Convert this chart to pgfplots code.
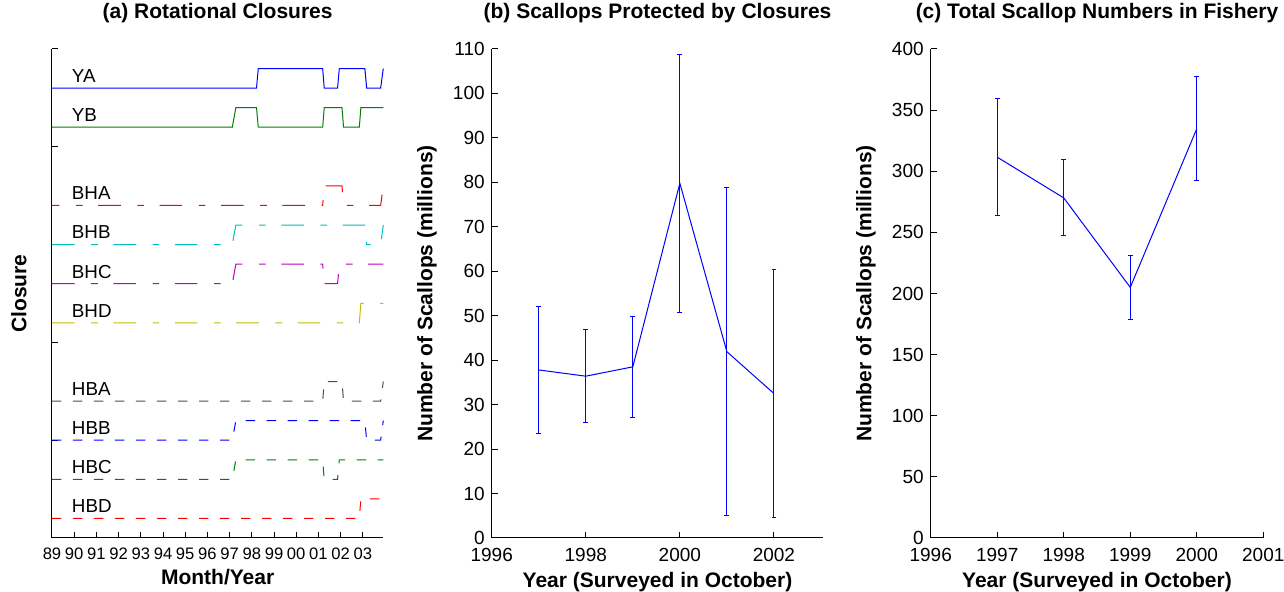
\documentclass[border=0pt]{standalone}
\usepackage{fontspec}
\setmainfont{Liberation Sans}
\usepackage{pgfplots}
\usepackage{pgfplotstable}
\pgfplotsset{compat=1.18}
\definecolor{mgreen}{rgb}{0,0.5,0}
\definecolor{mcyan}{rgb}{0,0.75,0.75}
\definecolor{mmag}{rgb}{0.75,0,0.75}
\definecolor{molive}{rgb}{0.75,0.75,0}
\pgfplotsset{
 myaxis/.style={
  scale only axis, axis lines=left, axis line style={-, black, line width=0.5pt},
  enlargelimits=false, tick align=inside, major tick length=3pt,
  tick style={black, line width=0.5pt},
  ticklabel style={font=\fontsize{9.5}{11}\selectfont},
  xticklabel style={yshift=-1.5pt},
  label style={font=\bfseries\fontsize{10.5}{12}\selectfont},
  title style={font=\bfseries\fontsize{10.5}{12}\selectfont, at={(axis description cs:0.5,1.037)}, anchor=base},
  /pgf/number format/assume math mode=true,
  /pgf/number format/1000 sep={},
  height=244.5pt, anchor=south west,
 },
 eb/.style={error bars/.cd, y dir=both, y explicit, error mark=none,
  error bar style={draw=blue, line width=0.5pt}},
 cap/.style={only marks, mark=-, mark size=1.2pt, color=blue, mark options={draw=blue, line width=0.5pt}},
}
\tikzset{
 dd/.style={line width=0.5pt, dash pattern=on 11.3pt off 8.3pt on 3.3pt off 7.8pt},
 dsh/.style={line width=0.5pt, dash pattern=on 4.7pt off 5.8pt},
 sl/.style={line width=0.5pt},
 lab/.style={anchor=west, inner sep=0pt, font=\fontsize{9.4}{11}\selectfont},
}
\pgfplotstableread{
x y e
1997 37.8 14.2
1998 36.4 10.5
1999 38.5 11.3
2000 79.8 29.0
2001 41.9 36.9
2002 32.5 27.9
}\protdata
\pgfplotstableread{
x y e
1997 311.5 47.7
1998 278.2 31.0
1999 205.0 26.3
2000 334.8 42.5
}\totdata
\begin{document}
\begin{tikzpicture}
\useasboundingbox (0,0) rectangle (642pt,296pt);
% (a)
\begin{axis}[myaxis, at={(26pt,27pt)}, width=165.65pt,
  xmin=1989, xmax=2003.92, ymin=0, ymax=25,
  xtick={1989,...,2003},
  xticklabels={89,90,91,92,93,94,95,96,97,98,99,00,01,02,03},
  xticklabel style={font=\fontsize{8.3}{10}\selectfont},
  ytick={0,5,10,15,20,25}, yticklabels={},
  title={(a) Rotational Closures},
  xlabel={Month/Year}, ylabel={Closure},
  xlabel style={at={(axis description cs:0.5,-0.096)}, anchor=base},
  ylabel style={at={(axis description cs:-0.1,0.5)}, anchor=center},
  clip=false]
\addplot[blue, sl] coordinates {(1989,23) (1998.21,23) (1998.29,24) (2001.19,24) (2001.26,23) (2001.86,23) (2001.94,24) (2003.09,24) (2003.17,23) (2003.80,23) (2003.92,24)};
\addplot[mgreen, sl] coordinates {(1989,21) (1997.12,21) (1997.28,22) (1998.21,22) (1998.29,21) (2001.19,21) (2001.26,22) (2002.06,22) (2002.13,21) (2002.84,21) (2002.91,22) (2003.92,22)};
\addplot[red, dd, dash phase=7.6pt] coordinates {(1989,17) (2001.19,17) (2001.26,18) (2002.06,18) (2002.13,17) (2003.80,17) (2003.92,18)};
\addplot[mcyan, dd] coordinates {(1989,15) (1997.12,15) (1997.28,16) (2003.09,16) (2003.17,15) (2003.80,15) (2003.92,16)};
\addplot[mmag, dd] coordinates {(1989,13) (1997.12,13) (1997.28,14) (2001.19,14) (2001.26,13) (2001.86,13) (2001.94,14) (2003.92,14)};
\addplot[molive, dd] coordinates {(1989,11) (2002.84,11) (2002.91,12) (2003.92,12)};
\addplot[black!70, dsh] coordinates {(1989,7) (2001.19,7) (2001.26,8) (2002.06,8) (2002.13,7) (2003.80,7) (2003.92,8)};
\addplot[blue, dsh] coordinates {(1989,5) (1997.12,5) (1997.28,6) (2003.09,6) (2003.17,5) (2003.80,5) (2003.92,6)};
\addplot[mgreen, dsh] coordinates {(1989,3) (1997.12,3) (1997.28,4) (2001.19,4) (2001.26,3) (2001.86,3) (2001.94,4) (2003.92,4)};
\addplot[red, dsh] coordinates {(1989,1) (2002.84,1) (2002.91,2) (2003.92,2)};
\node[lab] at (axis cs:1989.88,23.62) {YA};
\node[lab] at (axis cs:1989.88,21.62) {YB};
\node[lab] at (axis cs:1989.88,17.62) {BHA};
\node[lab] at (axis cs:1989.88,15.62) {BHB};
\node[lab] at (axis cs:1989.88,13.62) {BHC};
\node[lab] at (axis cs:1989.88,11.62) {BHD};
\node[lab] at (axis cs:1989.88,7.62) {HBA};
\node[lab] at (axis cs:1989.88,5.62) {HBB};
\node[lab] at (axis cs:1989.88,3.62) {HBC};
\node[lab] at (axis cs:1989.88,1.62) {HBD};
\end{axis}
% (b)
\begin{axis}[myaxis, at={(245.85pt,27pt)}, width=165.8pt,
  xmin=1996, xmax=2003.05, ymin=0, ymax=110,
  xtick={1996,1998,2000,2002}, ytick={0,10,...,110},
  title={(b) Scallops Protected by Closures},
  xlabel={Year (Surveyed in October)}, ylabel={Number of Scallops (millions)},
  xlabel style={at={(axis description cs:0.5,-0.102)}, anchor=base},
  ylabel style={at={(axis description cs:-0.195,0.5)}, anchor=center},
  clip=false]
\addplot[blue, sl, eb] table[x=x, y=y, y error=e] {\protdata};
\addplot[cap] table[x=x, y expr=\thisrow{y}+\thisrow{e}] {\protdata};
\addplot[cap] table[x=x, y expr=\thisrow{y}-\thisrow{e}] {\protdata};
\end{axis}
% (c)
\begin{axis}[myaxis, at={(465.35pt,27pt)}, width=166.3pt,
  xmin=1996, xmax=2001, ymin=0, ymax=400,
  xtick={1996,...,2001}, ytick={0,50,...,400},
  title={(c) Total Scallop Numbers in Fishery},
  xlabel={Year (Surveyed in October)}, ylabel={Number of Scallops (millions)},
  xlabel style={at={(axis description cs:0.5,-0.102)}, anchor=base},
  ylabel style={at={(axis description cs:-0.1945,0.5)}, anchor=center},
  clip=false]
\addplot[blue, sl, eb] table[x=x, y=y, y error=e] {\totdata};
\addplot[cap] table[x=x, y expr=\thisrow{y}+\thisrow{e}] {\totdata};
\addplot[cap] table[x=x, y expr=\thisrow{y}-\thisrow{e}] {\totdata};
\end{axis}
\end{tikzpicture}
\end{document}
